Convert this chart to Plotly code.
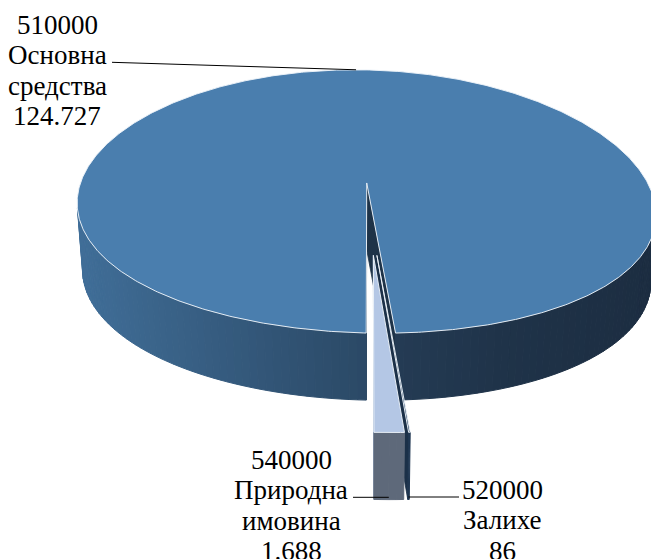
import numpy as np
import plotly.graph_objects as go

# Account codes, names and balances (thousands)
codes = ["510000", "520000", "540000"]
names = ["Основна средства", "Залихе", "Природна имовина"]
values = [124727, 86, 1688]

# Face colours per slice: top face, outer side, cut faces
top_colors = ["#4A7EAE", "#24405F", "#B4C7E5"]
side_colors = [None, "#1F3651", "#5E697A"]
cut_colors = ["#1E3348", "#1B3048", "#8FA6C6"]

# Shading of the big slice's outer wall (screen x -> colour)
wall_stops_x = [80, 365, 400, 500, 650]
wall_stops_c = ["#406E98", "#2B4966", "#243B54", "#1F3349", "#1C2D41"]

# Label placement: centre x and first baseline, which line carries the leader
label_anchor = [(57, 33), (502, 498), (291, 468)]
leader_line = [1, 0, 1]
leader_start_x = [112, 459, 353]
LINE_GAP = 30.3
FONT_SIZE = 27
FONT_FAMILY = "Liberation Serif"

# 3-D view of the pie (unit radius)
X0, Y0 = 370.0, 217.8
SCALE = 297.5
SIN_E = 0.467
K_Y, K_Z = 0.146, 0.078
THICK = 0.243
Z_PX = 276.0          # screen pixels per unit of height
SHEAR = 0.0225        # slight tilt of the view
SAG = 8.0             # extra drop of the left/right extremes
EXPLODE = 0.26
START_ANGLE = 180.0
CAM = np.array([0.0, 5.33])   # eye position on the ground plane (X, Y)


def project(X, Y, Z):
    X = np.asarray(X, float)
    Y = np.asarray(Y, float)
    Z = np.asarray(Z, float)
    den = 1 - K_Y * Y - K_Z * Z
    den_top = 1 - K_Y * Y
    xs = X0 + SCALE * X / den
    u = (xs - X0) / SCALE
    ys = Y0 + SCALE * Y * SIN_E / den_top - Z * Z_PX
    ys = ys + SHEAR * (xs - X0) + SAG * u ** 2
    return xs, ys


def rim(theta, off, z, r=1.0):
    t = np.radians(theta)
    X = off[0] + r * np.sin(t)
    Y = off[1] - r * np.cos(t)
    Z = np.full_like(np.atleast_1d(X), z, dtype=float)
    return project(X, Y, Z)


def hex_rgb(h):
    h = h.lstrip("#")
    return [int(h[i:i + 2], 16) for i in (0, 2, 4)]


def wall_color(x):
    rgb = np.array([hex_rgb(c) for c in wall_stops_c], float)
    ch = [int(round(np.interp(x, wall_stops_x, rgb[:, k]))) for k in range(3)]
    return "rgb(%d,%d,%d)" % tuple(ch)


def poly(fig, xs, ys, fill, line_color=None, width=0.8):
    xs = list(xs) + [xs[0]]
    ys = list(ys) + [ys[0]]
    fig.add_trace(go.Scatter(
        x=xs, y=ys, mode="lines", fill="toself", fillcolor=fill,
        line=dict(color=line_color or fill, width=width),
        hoverinfo="skip", showlegend=False))


total = float(sum(values))
spans = [360.0 * v / total for v in values]
starts = START_ANGLE + np.concatenate([[0], np.cumsum(spans)[:-1]])

slices = []
for i in range(len(values)):
    a0 = starts[i]
    a1 = a0 + spans[i]
    mid = 0.5 * (a0 + a1)
    m = np.radians(mid)
    off = (EXPLODE * np.sin(m), -EXPLODE * np.cos(m))
    slices.append(dict(i=i, a0=a0, a1=a1, mid=mid, off=off))

# far slices first
order = sorted(slices, key=lambda s: s["off"][1])

fig = go.Figure()

for s in order:
    i, a0, a1, off = s["i"], s["a0"], s["a1"], s["off"]

    # radial cut faces that turn toward the eye
    for ang, sign in ((a0, -1.0), (a1, 1.0)):
        t = np.radians(ang)
        normal = sign * np.array([np.cos(t), np.sin(t)])
        if normal @ (CAM - np.array(off)) <= 0:
            continue
        ax_t, ay_t = project(off[0], off[1], 0.0)
        ax_b, ay_b = project(off[0], off[1], -THICK)
        rx_t, ry_t = rim(ang, off, 0.0)
        rx_b, ry_b = rim(ang, off, -THICK)
        poly(fig, [float(ax_t), float(rx_t[0]), float(rx_b[0]), float(ax_b)],
             [float(ay_t), float(ry_t[0]), float(ry_b[0]), float(ay_b)],
             cut_colors[i])

    # outer wall, split into strips
    n = max(1, int(np.ceil((a1 - a0) / 1.5)))
    th = np.linspace(a0, a1, n + 1)
    strips = []
    for j in range(n):
        m = np.radians(0.5 * (th[j] + th[j + 1]))
        normal = np.array([np.sin(m), -np.cos(m)])
        p = np.array(off) + normal
        if normal @ (CAM - p) <= 0:
            continue
        strips.append((p[1], th[j], th[j + 1]))
    strips.sort()
    for _, t0, t1 in strips:
        xt, yt = rim(np.array([t0, t1]), off, 0.0)
        xb, yb = rim(np.array([t1, t0]), off, -THICK)
        xs = list(xt) + list(xb)
        ys = list(yt) + list(yb)
        c = side_colors[i] or wall_color(float(np.mean(xs)))
        poly(fig, xs, ys, c, width=1.0)

    # top face
    th = np.linspace(a0, a1, max(3, int((a1 - a0) * 2)))
    xr, yr = rim(th, off, 0.0)
    ax, ay = project(off[0], off[1], 0.0)
    poly(fig, [float(ax)] + list(xr), [float(ay)] + list(yr), top_colors[i],
         line_color="rgba(236,242,249,0.95)", width=1.0)

# labels and leader lines
for s in slices:
    i = s["i"]
    words = names[i].split()
    lines = [codes[i]] + words + [f"{values[i]:,}".replace(",", ".")]
    cx, base = label_anchor[i]
    for k, txt in enumerate(lines):
        fig.add_annotation(
            x=cx, y=base + k * LINE_GAP - 8, xref="x", yref="y",
            text=txt, showarrow=False, xanchor="center", yanchor="middle",
            font=dict(family=FONT_FAMILY, size=FONT_SIZE, color="#000000"))
    ly = base + leader_line[i] * LINE_GAP - 1
    if s["off"][1] < 0:
        ex, ey = rim(s["mid"], s["off"], 0.0)
        end = (float(ex[0]), float(ey[0]))
    else:
        ex, _ = rim(s["mid"], s["off"], -THICK)
        end = (float(ex[0]), ly)
    fig.add_trace(go.Scatter(
        x=[leader_start_x[i], end[0]], y=[ly, end[1]], mode="lines",
        line=dict(color="#000000", width=1), hoverinfo="skip",
        showlegend=False))

fig.update_layout(
    width=651, height=559, autosize=False,
    margin=dict(l=0, r=0, t=0, b=0),
    paper_bgcolor="white", plot_bgcolor="white",
    xaxis=dict(range=[0, 651], visible=False, fixedrange=True),
    yaxis=dict(range=[559, 0], visible=False, fixedrange=True),
    font=dict(family=FONT_FAMILY),
    showlegend=False,
)

fig.write_html("out.html")
